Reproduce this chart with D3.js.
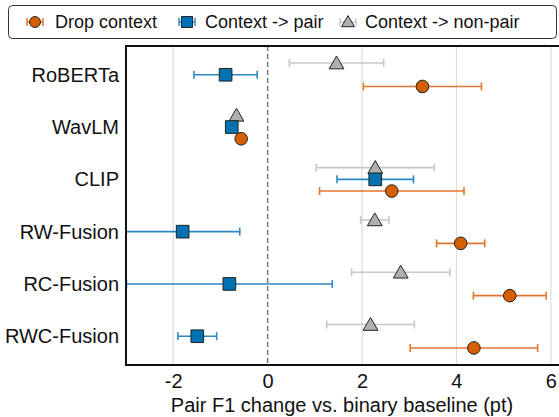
<!DOCTYPE html>
<html>
<head>
<meta charset="utf-8">
<script src="https://cdn.jsdelivr.net/npm/d3@7"></script>
<style>
  body { margin: 0; background: #fff; }
  text { font-family: "Liberation Sans", Arial, sans-serif; }
</style>
</head>
<body>
<div id="chart"></div>
<script>
var models = ["RoBERTa", "WavLM", "CLIP", "RW-Fusion", "RC-Fusion", "RWC-Fusion"];

var dropMean = [3.28, -0.56, 2.63, 4.09, 5.13, 4.37];
var dropErr = [1.25, 0.0, 1.53, 0.51, 0.77, 1.35];
var pairMean = [-0.89, -0.76, 2.28, -1.80, -0.81, -1.49];
var pairErr = [0.67, 0.0, 0.81, 1.21, 2.18, 0.41];
var nonPairMean = [1.46, -0.66, 2.28, 2.27, 2.82, 2.18];
var nonPairErr = [1.0, 0.0, 1.25, 0.3, 1.04, 0.93];

var xTicks = [-2, 0, 2, 4, 6];

function buildChart(id) {
  var width = 559;
  var height = 417;

  var margin = { top: 46, right: -6, bottom: 52, left: 126 };
  var innerWidth = width - margin.left - margin.right;
  var innerHeight = height - margin.top - margin.bottom;

  var svg = d3.select(id).append("svg").attr("width", width).attr("height", height);

  var series = [
    { name: "Context -> non-pair", mean: nonPairMean, err: nonPairErr, fill: "#b0b0b0", bar: "#c8c8c8", shape: "triangle", offset: -11.7 },
    { name: "Context -> pair", mean: pairMean, err: pairErr, fill: "#0072b2", bar: "#2b88c4", shape: "square", offset: 0 },
    { name: "Drop context", mean: dropMean, err: dropErr, fill: "#d55e00", bar: "#e0762e", shape: "circle", offset: 11.7 }
  ];

  var x = d3.scaleLinear().domain([-3, 6.3]).range([0, innerWidth]);
  var y = d3.scalePoint().domain(models).range([0, innerHeight]).padding(0.55);

  var g = svg.append("g").attr("transform", "translate(" + margin.left + "," + margin.top + ")");

  svg.append("defs").append("clipPath").attr("id", "plot-clip")
    .append("rect").attr("width", innerWidth).attr("height", innerHeight);

  // grid
  g.selectAll(".grid")
    .data(xTicks.filter(function (t) { return t !== 0; }))
    .enter()
    .append("line")
    .attr("x1", function (t) { return x(t); })
    .attr("x2", function (t) { return x(t); })
    .attr("y1", 0)
    .attr("y2", innerHeight)
    .attr("stroke", "#dcdcdc")
    .attr("stroke-width", 1.2);

  g.append("line")
    .attr("x1", x(0)).attr("x2", x(0))
    .attr("y1", 0).attr("y2", innerHeight)
    .attr("stroke", "#777")
    .attr("stroke-width", 1.5)
    .attr("stroke-dasharray", "5,3");

  var plot = g.append("g").attr("clip-path", "url(#plot-clip)");

  var symbolType = { triangle: d3.symbolTriangle, square: d3.symbolSquare, circle: d3.symbolCircle };
  var symbolSize = { triangle: 95, square: 160, circle: 125 };

  series.forEach(function (s) {
    var rows = models.map(function (m, i) {
      return { model: m, mean: s.mean[i], err: s.err[i] };
    });
    var sg = plot.append("g");

    var eb = sg.selectAll(".eb").data(rows.filter(function (r) { return r.err > 0; })).enter().append("g");
    eb.append("line")
      .attr("x1", function (r) { return x(r.mean - r.err); })
      .attr("x2", function (r) { return x(r.mean + r.err); })
      .attr("y1", function (r) { return y(r.model) + s.offset; })
      .attr("y2", function (r) { return y(r.model) + s.offset; })
      .attr("stroke", s.bar).attr("stroke-width", 1.6);
    [-1, 1].forEach(function (sign) {
      eb.append("line")
        .attr("x1", function (r) { return x(r.mean + sign * r.err); })
        .attr("x2", function (r) { return x(r.mean + sign * r.err); })
        .attr("y1", function (r) { return y(r.model) + s.offset - 4; })
        .attr("y2", function (r) { return y(r.model) + s.offset + 4; })
        .attr("stroke", s.bar).attr("stroke-width", 1.6);
    });

    sg.selectAll(".pt").data(rows).enter().append("path")
      .attr("d", d3.symbol().type(symbolType[s.shape]).size(symbolSize[s.shape]))
      .attr("transform", function (r) {
        var dy = s.shape === "triangle" ? 1.5 : 0;
        return "translate(" + x(r.mean) + "," + (y(r.model) + s.offset + dy) + ")";
      })
      .attr("fill", s.fill)
      .attr("stroke", "#222")
      .attr("stroke-width", 1);
  });

  // frame
  g.append("line").attr("x1", 0).attr("x2", innerWidth).attr("y1", 0).attr("y2", 0).attr("stroke", "#111").attr("stroke-width", 2);
  g.append("line").attr("x1", 0).attr("x2", innerWidth).attr("y1", innerHeight).attr("y2", innerHeight).attr("stroke", "#111").attr("stroke-width", 2);
  g.append("line").attr("x1", 0).attr("x2", 0).attr("y1", -1).attr("y2", innerHeight + 1).attr("stroke", "#111").attr("stroke-width", 2);

  var xAxis = d3.axisBottom(x).tickValues(xTicks).tickSize(0).tickPadding(9)
    .tickFormat(function (d) { return d < 0 ? "-" + Math.abs(d) : String(d); });
  var xg = g.append("g").attr("transform", "translate(0," + innerHeight + ")").call(xAxis);
  xg.select(".domain").remove();
  xg.selectAll("text").attr("font-size", 20).attr("fill", "#111")
    .attr("font-family", "'Liberation Sans', Arial, sans-serif");

  var yAxis = d3.axisLeft(y).tickSize(0).tickPadding(7);
  var yg = g.append("g").call(yAxis);
  yg.select(".domain").remove();
  yg.selectAll("text").attr("font-size", 20).attr("fill", "#111")
    .attr("font-family", "'Liberation Sans', Arial, sans-serif");

  svg.append("text")
    .attr("x", 342)
    .attr("y", 412)
    .attr("text-anchor", "middle")
    .style("font-size", "20px")
    .attr("fill", "#111")
    .text("Pair F1 change vs. binary baseline (pt)");

  // legend
  var legend = svg.append("g");
  legend.append("rect")
    .attr("x", 8.5).attr("y", 5.5).attr("width", 548).attr("height", 33)
    .attr("rx", 4).attr("fill", "#fff").attr("stroke", "#333").attr("stroke-width", 1);

  var legendItems = [
    { s: series[2], x: 35, tx: 55 },
    { s: series[1], x: 187, tx: 205 },
    { s: series[0], x: 348, tx: 365 }
  ];
  legendItems.forEach(function (it) {
    var ly = 22;
    var li = legend.append("g");
    li.append("line").attr("x1", it.x - 8).attr("x2", it.x + 8).attr("y1", ly).attr("y2", ly)
      .attr("stroke", it.s.bar).attr("stroke-width", 1.5);
    [-8, 8].forEach(function (dx) {
      li.append("line").attr("x1", it.x + dx).attr("x2", it.x + dx).attr("y1", ly - 4).attr("y2", ly + 4)
        .attr("stroke", it.s.bar).attr("stroke-width", 1.5);
    });
    li.append("path")
      .attr("d", d3.symbol().type(symbolType[it.s.shape]).size(symbolSize[it.s.shape] * 0.75))
      .attr("transform", "translate(" + it.x + "," + (ly + (it.s.shape === "triangle" ? 1 : 0)) + ")")
      .attr("fill", it.s.fill).attr("stroke", "#222").attr("stroke-width", 1);
    li.append("text").attr("x", it.tx).attr("y", ly).attr("dy", "0.35em")
      .style("font-size", "18px").attr("fill", "#111").text(it.s.name);
  });
}

buildChart("#chart");
</script>
</body>
</html>
